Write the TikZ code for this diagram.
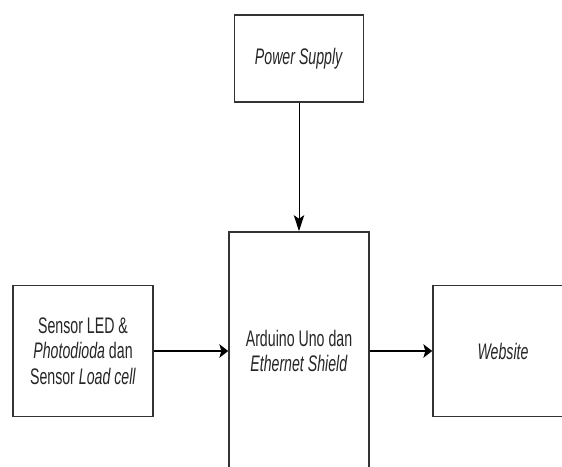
\documentclass[tikz,border=0pt]{standalone}
\usepackage{fontspec}
\setmainfont{Liberation Sans}[FakeStretch=0.63]
\usetikzlibrary{arrows.meta}

\begin{document}
\begin{tikzpicture}[
  font=\fontsize{16}{18}\selectfont,
  blok/.style={draw=black!80, line width=1.2pt, fill=white,
               text=black!85, align=center, inner sep=1pt},
  panah/.style={draw=black, line width=0.9pt,
                -{Stealth[length=0.22cm, width=0.34cm, inset=0.05cm]}},
  panahturun/.style={draw=black, line width=0.7pt,
                     -{Stealth[length=0.40cm, width=0.26cm, inset=0.09cm]}}
]

%--------------------------------------------------------------
% Bingkai gambar: blok tengah dan blok kanan terpotong di tepi
%--------------------------------------------------------------
\fill[white] (0,0) rectangle (14.05,11.65);
\path[use as bounding box] (0,0) rectangle (14.05,11.65);
\clip (0,0) rectangle (14.05,11.65);

%--------------------------------------------------------------
% Blok-blok sistem
%--------------------------------------------------------------
\node[blok, minimum width=3.225cm, minimum height=2.175cm] (catu)
  at (7.475,10.19) {\textit{Power Supply}};

\node[blok, minimum width=3.5cm, minimum height=5.95cm] (arduino)
  at (7.475,2.875) {Arduino Uno dan\\ \textit{Ethernet Shield}};

\node[blok, minimum width=3.5cm, minimum height=3.275cm] (sensor)
  at (2.075,2.875) {Sensor LED \&\\ \textit{Photodioda} dan\\ Sensor \textit{Load cell}};

\node[blok, minimum width=3.5cm, minimum height=3.275cm] (web)
  at (12.575,2.875) {\textit{Website}};

%--------------------------------------------------------------
% Aliran data dan daya
%--------------------------------------------------------------
\draw[panahturun] (catu) -- (arduino);
\draw[panah] (sensor) -- (arduino);
\draw[panah] (arduino) -- (web);

\end{tikzpicture}
\end{document}
